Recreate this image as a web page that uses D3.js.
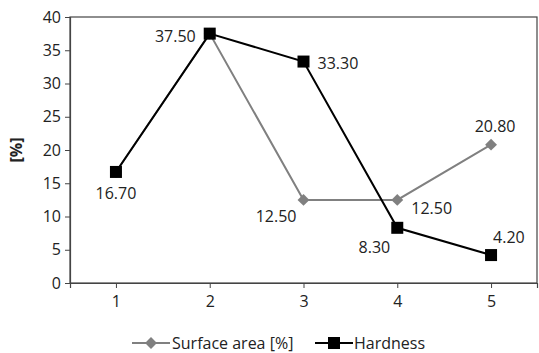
<!DOCTYPE html>
<html lang="en">
<head>
  <meta charset="utf-8">
  <script src="https://d3js.org/d3.v7.min.js"></script>
  <style>
    body { margin: 0; background: #fff; }
    text { font-family: "Open Sans", "Noto Sans", sans-serif; fill: #222; }
  </style>
</head>
<body>
<svg width="539" height="353"></svg>
<script>
  // chart data
  var categories = ["1", "2", "3", "4", "5"];
  var surfaceArea = [16.70, 37.50, 12.50, 12.50, 20.80];
  var hardness = [16.70, 37.50, 33.30, 8.30, 4.20];
  var yTicks = [0, 5, 10, 15, 20, 25, 30, 35, 40];

  var svg = d3.select("svg"),
      plotL = 70, plotR = 537, plotT = 17, plotB = 283;

  var x = d3.scalePoint().domain(categories).range([plotL, plotR]).padding(0.49);
  var y = d3.scaleLinear().domain([0, 40]).range([plotB, plotT]);

  // frame
  svg.append("rect")
     .attr("x", plotL).attr("y", plotT)
     .attr("width", plotR - plotL).attr("height", plotB - plotT)
     .attr("fill", "none").attr("stroke", "#444").attr("stroke-width", 1.2);

  var yAxis = svg.append("g")
     .attr("transform", "translate(" + plotL + ",0)")
     .call(d3.axisLeft(y).tickValues(yTicks).tickSize(5).tickPadding(4));
  var xAxis = svg.append("g")
     .attr("transform", "translate(0," + plotB + ")")
     .call(d3.axisBottom(x).tickSize(5).tickPadding(8));
  [yAxis, xAxis].forEach(function(a) {
    a.select(".domain").attr("stroke", "#444").attr("stroke-width", 1.2);
    a.selectAll(".tick line").attr("stroke", "#444");
    a.selectAll("text").attr("font-size", "16px").attr("fill", "#222")
     .style("font-family", "'Open Sans', 'Noto Sans', sans-serif");
  });

  svg.append("text")
     .attr("transform", "translate(22,150) rotate(-90)")
     .attr("text-anchor", "middle")
     .attr("font-size", "16px").attr("font-weight", "bold")
     .text("[%]");

  var line = d3.line()
      .x(function(d, i) { return x(categories[i]); })
      .y(function(d) { return y(d); });

  // surface area series (grey, diamonds)
  svg.append("path").datum(surfaceArea)
     .attr("d", line).attr("fill", "none")
     .attr("stroke", "#808080").attr("stroke-width", 2);
  svg.selectAll(".dia").data(surfaceArea).enter().append("path")
     .attr("class", "dia")
     .attr("d", d3.symbol().type(d3.symbolDiamond2).size(90))
     .attr("transform", function(d, i) { return "translate(" + x(categories[i]) + "," + y(d) + ")"; })
     .attr("fill", "#808080");

  // hardness series (black, squares)
  svg.append("path").datum(hardness)
     .attr("d", line).attr("fill", "none")
     .attr("stroke", "#000").attr("stroke-width", 2);
  svg.selectAll(".sq").data(hardness).enter().append("rect")
     .attr("class", "sq")
     .attr("x", function(d, i) { return x(categories[i]) - 6; })
     .attr("y", function(d) { return y(d) - 6; })
     .attr("width", 12).attr("height", 12)
     .attr("fill", "#000");

  // data labels: [series, index, dx, dy, anchor]
  var labelPlace = [
    [hardness, 0, 0, 27, "middle"],
    [hardness, 1, -14, 8, "end"],
    [hardness, 2, 14, 7, "start"],
    [hardness, 3, -7, 25, "end"],
    [hardness, 4, 2, -12, "start"],
    [surfaceArea, 2, -7, 22, "end"],
    [surfaceArea, 3, 14, 14, "start"],
    [surfaceArea, 4, 4, -13, "middle"]
  ];
  labelPlace.forEach(function(p) {
    var v = p[0][p[1]];
    svg.append("text")
       .attr("x", x(categories[p[1]]) + p[2])
       .attr("y", y(v) + p[3])
       .attr("text-anchor", p[4])
       .attr("font-size", "16px")
       .text(v.toFixed(2));
  });

  // legend
  var lg = svg.append("g").attr("transform", "translate(0,343)");
  lg.append("line").attr("x1", 132).attr("x2", 170).attr("stroke", "#808080").attr("stroke-width", 2);
  lg.append("path").attr("d", d3.symbol().type(d3.symbolDiamond2).size(90))
    .attr("transform", "translate(151,0)").attr("fill", "#808080");
  lg.append("text").attr("x", 172).attr("y", 6).attr("font-size", "16px").text("Surface area [%]");
  lg.append("line").attr("x1", 315).attr("x2", 353).attr("stroke", "#000").attr("stroke-width", 2);
  lg.append("rect").attr("x", 328).attr("y", -6).attr("width", 12).attr("height", 12).attr("fill", "#000");
  lg.append("text").attr("x", 354).attr("y", 6).attr("font-size", "16px").text("Hardness");
</script>
</body>
</html>
